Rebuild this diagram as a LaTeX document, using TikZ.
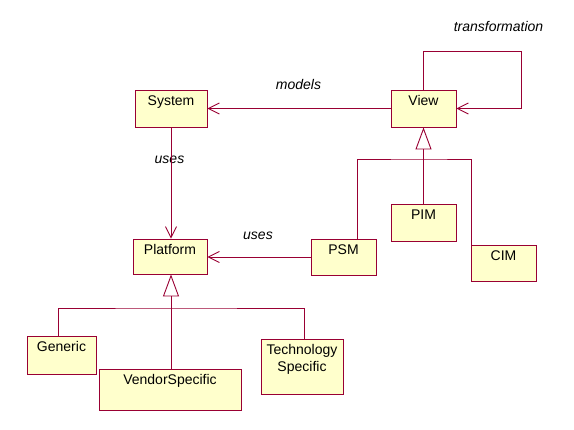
\documentclass[tikz,border=0pt]{standalone}
\usepackage{fontspec}
\setmainfont{Liberation Sans}
\usetikzlibrary{arrows.meta}
\definecolor{umlline}{RGB}{153,0,51}
\definecolor{umlfill}{RGB}{255,255,204}
\tikzset{
  cls/.style={draw=umlline, fill=umlfill, line width=0.9pt, rectangle, inner sep=0pt,
    label={[clsname]north:#1}},
  clsname/.style={anchor=north, inner sep=0pt, yshift=-6pt, align=center,
    font=\fontsize{14}{17}\selectfont, text=black},
  conn/.style={draw=umlline, line width=0.9pt},
  assoc/.style={conn, -{Straight Barb[length=11pt,width=11pt]}},
  gen/.style={conn, -{Triangle[open,length=22pt,width=16pt,fill=white]}},
  lbl/.style={font=\fontsize{14}{17}\selectfont\itshape, inner sep=0pt, anchor=base}
}
\begin{document}
\begin{tikzpicture}[x=1pt,y=-1pt]
\useasboundingbox (0,0) rectangle (574,430);
% labels (drawn first so connectors pass over them)
\node[lbl] (lmodels) at (298.5,90) {models};
\node[lbl] (luses1) at (169.5,164) {uses};
\node[lbl] (luses2) at (258,240) {uses};
\node[lbl] (ltrans) at (498.5,32) {transformation};
% classes
\node[cls=System, minimum width=72, minimum height=37] (sys) at (171,108.5) {};
\node[cls=View, minimum width=65, minimum height=37] (view) at (423.5,108.5) {};
\node[cls=Platform, minimum width=74, minimum height=35] (plat) at (170,256.5) {};
\node[cls=PSM, minimum width=65, minimum height=36] (psm) at (343.5,257) {};
\node[cls=PIM, minimum width=65, minimum height=37] (pim) at (423.5,222.5) {};
\node[cls=CIM, minimum width=65, minimum height=36] (cim) at (503.5,263) {};
\node[cls=Generic, minimum width=69, minimum height=38] (gen) at (61.5,355) {};
\node[cls=VendorSpecific, minimum width=142, minimum height=41] (vend) at (170,389.5) {};
\node[cls={Technology\\Specific}, minimum width=82, minimum height=55] (tech) at (302,366.5) {};
% junction points
\coordinate (vj) at (423.5,159);
\coordinate (pj) at (171,308);
\coordinate (loopa) at (423.5,51);
\coordinate (loopb) at (521,51);
% associations
\draw[assoc] (view.west) -- (sys.east);
\draw[assoc] (sys.south) -- (sys.south |- plat.north);
\draw[assoc] (psm.west) -- (psm.west -| plat.east);
\draw[assoc] (view.north) -- (loopa) -- (loopb) |- (view.east);
% generalizations (View)
\draw[gen] (vj) -- (view.south);
\draw[conn] ([xshift=13.5pt]psm.north) |- (vj) -| ([xshift=1pt]cim.north west);
\draw[conn] (pim.north) -- (vj);
% generalizations (Platform)
\draw[gen] (pj) -- (pj |- plat.south);
\draw[conn] ([xshift=-3.5pt]gen.north) |- (pj) -| ([xshift=2pt]tech.north);
\draw[conn] (vend.north -| pj) -- (pj);
\end{tikzpicture}
\end{document}
